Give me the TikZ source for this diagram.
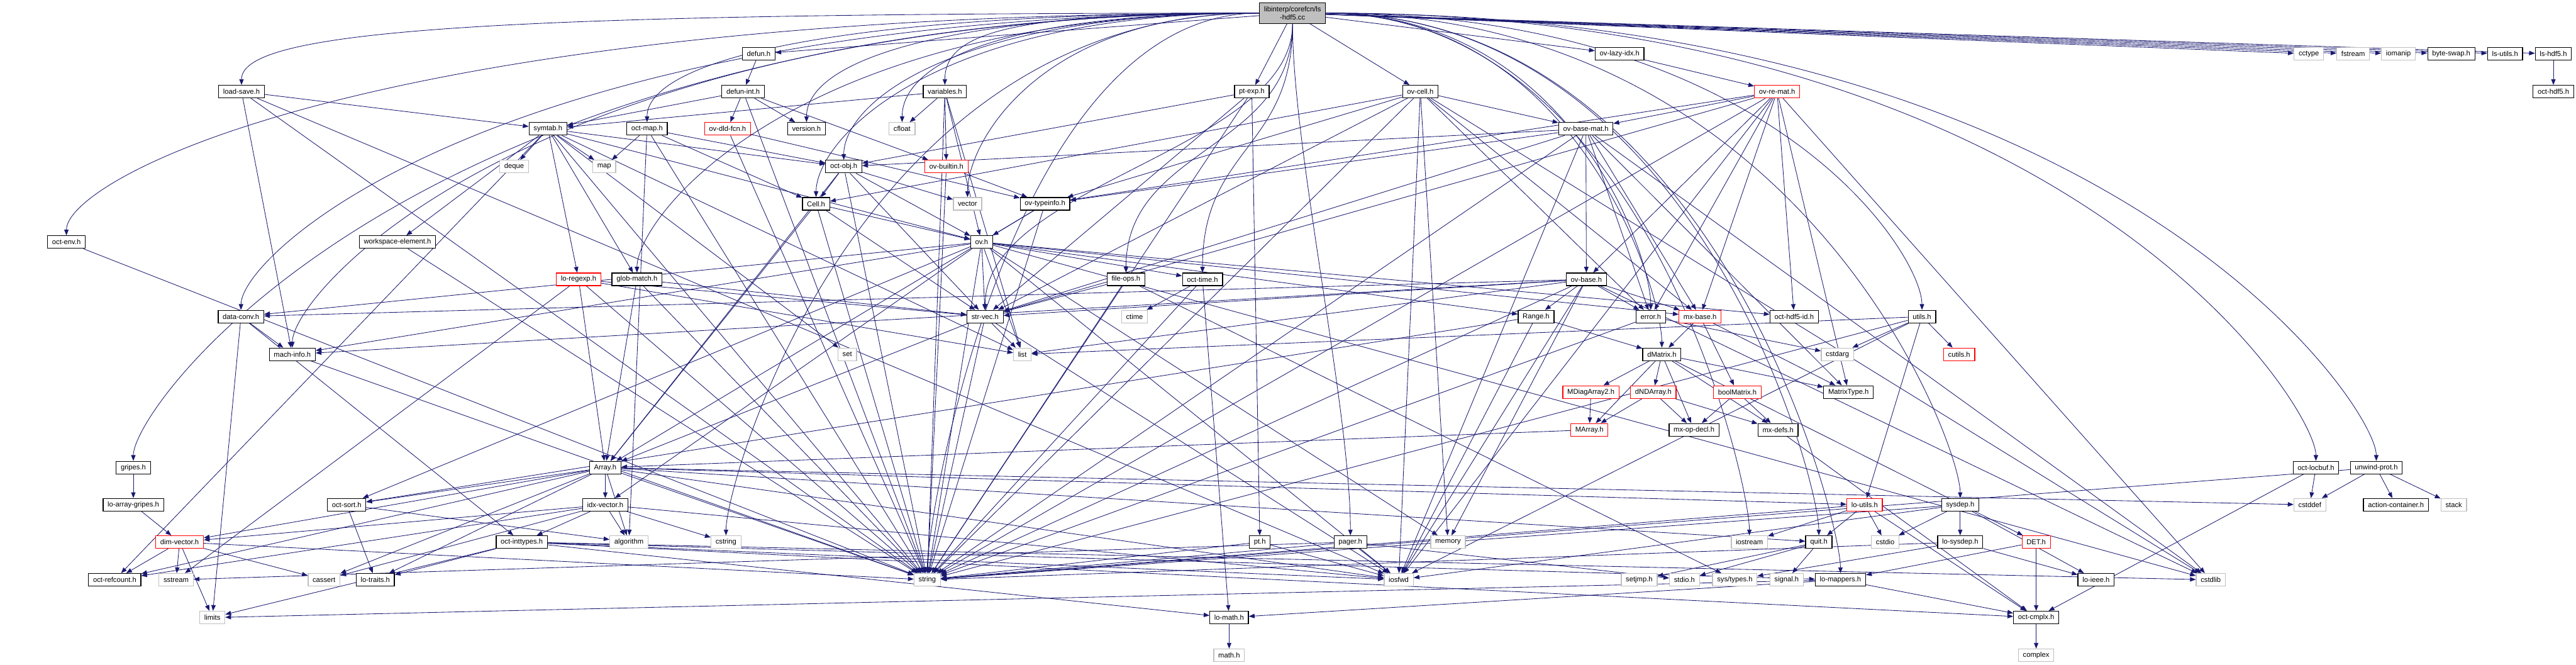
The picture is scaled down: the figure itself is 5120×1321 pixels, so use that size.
\documentclass[tikz,border=0pt]{standalone}
\usepackage{fontspec}
\setmainfont{Liberation Sans}
\usetikzlibrary{arrows.meta,backgrounds,calc}

\definecolor{edgeblue}{HTML}{191970}

\tikzset{
  file/.style={draw=black, line width=0.9pt, fill=white, inner xsep=0.18cm,
    inner ysep=0pt, minimum height=0.5cm, font=\fontsize{8}{9.5}\selectfont},
  sysfile/.style={file, draw=gray!50},
  cutfile/.style={file, draw=red},
  srcfile/.style={file, fill=gray!50, align=center, minimum height=0.82cm},
  dep/.style={draw=edgeblue, line width=0.6pt, -{Triangle[length=6.5pt,width=5pt]}}
}

\begin{document}
\begin{tikzpicture}[x=0.02cm, y=-0.02cm]
  \useasboundingbox (0,0) rectangle (5120,1321);

  % The source file
  \node[srcfile] (root) at (2569,26) {libinterp/corefcn/ls\\-hdf5.cc};

  % Row 1
  \node[file] (defun) at (1508,107) {defun.h};
  \node[file] (ovlazyidx) at (3219,107) {ov-lazy-idx.h};
  \node[sysfile] (cctype) at (4589,107) {cctype};
  \node[sysfile] (fstream) at (4677,107) {fstream};
  \node[sysfile] (iomanip) at (4767,107) {iomanip};
  \node[file] (byteswap) at (4872,107) {byte-swap.h};
  \node[file] (lsutils) at (4979,107) {ls-utils.h};
  \node[file] (lshdf5) at (5075,107) {ls-hdf5.h};

  % Row 2
  \node[file] (loadsave) at (480,182) {load-save.h};
  \node[file] (defunint) at (1477,182) {defun-int.h};
  \node[file] (variables) at (1878,182) {variables.h};
  \node[file] (ptexp) at (2488,182) {pt-exp.h};
  \node[file] (ovcell) at (2823,182) {ov-cell.h};
  \node[cutfile] (ovremat) at (3532,182) {ov-re-mat.h};
  \node[file] (octhdf5) at (5075,182) {oct-hdf5.h};

  % Row 3
  \node[file] (symtab) at (1089,256) {symtab.h};
  \node[file] (octmap) at (1286,256) {oct-map.h};
  \node[cutfile] (ovdldfcn) at (1446,256) {ov-dld-fcn.h};
  \node[file] (version) at (1603,256) {version.h};
  \node[sysfile] (cfloat) at (1793,256) {cfloat};
  \node[file] (ovbasemat) at (3152,256) {ov-base-mat.h};

  % Row 4
  \node[sysfile] (deque) at (1022,331) {deque};
  \node[sysfile] (map) at (1201,331) {map};
  \node[file] (octobj) at (1677,331) {oct-obj.h};
  \node[cutfile] (ovbuiltin) at (1881,331) {ov-builtin.h};

  % Row 5
  \node[file] (cell) at (1622,405) {Cell.h};
  \node[sysfile] (vector) at (1923,405) {vector};
  \node[file] (ovtypeinfo) at (2077,405) {ov-typeinfo.h};

  % Row 6
  \node[file] (octenv) at (132,481) {oct-env.h};
  \node[file] (wselem) at (790,481) {workspace-element.h};
  \node[file] (ov) at (1951,481) {ov.h};

  % Row 7
  \node[cutfile] (loregexp) at (1150,555) {lo-regexp.h};
  \node[file] (globmatch) at (1266,555) {glob-match.h};
  \node[file] (fileops) at (2238,555) {file-ops.h};
  \node[file] (octtime) at (2390,555) {oct-time.h};
  \node[file] (ovbase) at (3153,555) {ov-base.h};

  % Row 8
  \node[file] (dataconv) at (479,629) {data-conv.h};
  \node[file] (strvec) at (1958,629) {str-vec.h};
  \node[sysfile] (ctime) at (2255,629) {ctime};
  \node[file] (range) at (3053,629) {Range.h};
  \node[file] (error) at (3281,629) {error.h};
  \node[cutfile] (mxbase) at (3379,629) {mx-base.h};
  \node[file] (octhdf5id) at (3566,629) {oct-hdf5-id.h};
  \node[file] (utils) at (3820,629) {utils.h};

  % Row 9
  \node[file] (machinfo) at (581,704) {mach-info.h};
  \node[sysfile] (set) at (1684,704) {set};
  \node[sysfile] (list) at (2032,704) {list};
  \node[file] (dmatrix) at (3303,704) {dMatrix.h};
  \node[sysfile] (cstdarg) at (3652,704) {cstdarg};
  \node[cutfile] (cutils) at (3894,704) {cutils.h};

  % Row 10
  \node[cutfile] (mdiag) at (3162,779) {MDiagArray2.h};
  \node[cutfile] (dndarray) at (3286,779) {dNDArray.h};
  \node[cutfile] (boolmatrix) at (3453,779) {boolMatrix.h};
  \node[file] (mattype) at (3674,779) {MatrixType.h};

  % Row 11
  \node[cutfile] (marray) at (3159,854) {MArray.h};
  \node[file] (mxopdecl) at (3367,854) {mx-op-decl.h};
  \node[file] (mxdefs) at (3534,854) {mx-defs.h};

  % Row 12
  \node[file] (gripes) at (265,929) {gripes.h};
  \node[file] (array) at (1203,929) {Array.h};
  \node[file] (octlocbuf) at (4603,929) {oct-locbuf.h};
  \node[file] (unwindprot) at (4723,929) {unwind-prot.h};

  % Row 13
  \node[file] (loagripes) at (265,1003) {lo-array-gripes.h};
  \node[file] (octsort) at (689,1003) {oct-sort.h};
  \node[file] (idxvector) at (1203,1003) {idx-vector.h};
  \node[cutfile] (loutils) at (3706,1003) {lo-utils.h};
  \node[file] (sysdep) at (3896,1003) {sysdep.h};
  \node[sysfile] (cstddef) at (4591,1003) {cstddef};
  \node[file] (actcont) at (4762,1003) {action-container.h};
  \node[sysfile] (stack) at (4877,1003) {stack};

  % Row 14
  \node[cutfile] (dimvector) at (357,1077) {dim-vector.h};
  \node[file] (octinttypes) at (1037,1077) {oct-inttypes.h};
  \node[sysfile] (algorithm) at (1250,1077) {algorithm};
  \node[sysfile] (cstring) at (1443,1077) {cstring};
  \node[file] (pt) at (2504,1077) {pt.h};
  \node[file] (pager) at (2684,1077) {pager.h};
  \node[sysfile] (memory) at (2878,1077) {memory};
  \node[sysfile] (iostream) at (3477,1077) {iostream};
  \node[file] (quit) at (3615,1077) {quit.h};
  \node[sysfile] (cstdio) at (3747,1077) {cstdio};
  \node[file] (losysdep) at (3896,1077) {lo-sysdep.h};
  \node[cutfile] (det) at (4047,1077) {DET.h};

  % Row 15
  \node[file] (octrefcount) at (228,1152) {oct-refcount.h};
  \node[sysfile] (sstream) at (350,1152) {sstream};
  \node[sysfile] (cassert) at (644,1152) {cassert};
  \node[file] (lotraits) at (746,1152) {lo-traits.h};
  \node[sysfile] (string) at (1843,1152) {string};
  \node[sysfile] (iosfwd) at (2780,1152) {iosfwd};
  \node[sysfile] (setjmp) at (3258,1152) {setjmp.h};
  \node[sysfile] (stdio) at (3348,1152) {stdio.h};
  \node[sysfile] (systypes) at (3448,1152) {sys/types.h};
  \node[sysfile] (signal) at (3551,1152) {signal.h};
  \node[file] (lomappers) at (3658,1152) {lo-mappers.h};
  \node[file] (loieee) at (4166,1152) {lo-ieee.h};
  \node[sysfile] (cstdlib) at (4394,1152) {cstdlib};

  % Rows 16 and 17
  \node[sysfile] (limits) at (422,1227) {limits};
  \node[file] (lomath) at (2443,1227) {lo-math.h};
  \node[file] (octcmplx) at (4047,1227) {oct-cmplx.h};
  \node[sysfile] (mathh) at (2443,1302) {math.h};
  \node[sysfile] (complex) at (4047,1302) {complex};

  \begin{scope}[on background layer]
    % Direct includes of the source file
    \foreach \t in {defun,ovlazyidx,cctype,fstream,iomanip,byteswap,lsutils,lshdf5,ptexp,ovcell}
      \draw[dep] (root) -- (\t);
    \foreach \t in {fileops,octtime,pager,strvec}
      \draw[dep] (root.south) .. controls +(0,250) and ($(\t.north)+(0,-250)$) .. (\t.north);
    \foreach \t in {variables,cfloat,vector,cell,octobj,version,octmap,globmatch,loadsave,
                    octenv,gripes,dataconv,machinfo,string,cstring}
      \draw[dep] (root.west) .. controls ($(root.west)!0.75!(root.west -| \t.north)$)
        and ($(\t.north)+(0,-110)$) .. (\t.north);
    \foreach \t in {error,dmatrix,utils,sysdep,quit,iostream,lomappers,octlocbuf,unwindprot}
      \draw[dep] (root.east) .. controls ($(root.east)!0.75!(root.east -| \t.north)$)
        and ($(\t.north)+(0,-110)$) .. (\t.north);

    % Includes of the other headers
    \draw[dep] (defun) -- (defunint);
    \foreach \t in {symtab,version,ovdldfcn,ovbuiltin,string}
      \draw[dep] (defunint) -- (\t);
    \foreach \t in {symtab,machinfo,iosfwd,string}
      \draw[dep] (loadsave) -- (\t);
    \foreach \t in {symtab,cfloat,ovbuiltin,ov,list,string}
      \draw[dep] (variables) -- (\t);
    \foreach \t in {pt,octobj,strvec,string}
      \draw[dep] (ptexp) -- (\t);
    \foreach \t in {ovbasemat,cell,ovtypeinfo,strvec,error,mxbase,memory,iosfwd,string,cstdlib}
      \draw[dep] (ovcell) -- (\t);
    \foreach \t in {ovbasemat,ovbase,ovtypeinfo,strvec,error,mxbase,mattype,octhdf5id,iosfwd,string,cstdlib}
      \draw[dep] (ovremat) -- (\t);
    \draw[dep] (ovlazyidx) -- (ovremat);
    \draw[dep] (lshdf5) -- (octhdf5);
    \foreach \t in {ovbase,octobj,ovtypeinfo,strvec,error,mxbase,mattype,iosfwd,string,cstdlib}
      \draw[dep] (ovbasemat) -- (\t);
    \foreach \t in {deque,map,set,list,wselem,octobj,ov,loregexp,globmatch,octrefcount,string}
      \draw[dep] (symtab) -- (\t);
    \foreach \t in {map,cell,octobj,algorithm,string}
      \draw[dep] (octmap) -- (\t);
    \foreach \t in {ovtypeinfo,string}
      \draw[dep] (ovdldfcn) -- (\t);
    \foreach \t in {cell,vector,ov,strvec,array,string}
      \draw[dep] (octobj) -- (\t);
    \foreach \t in {ovtypeinfo,string}
      \draw[dep] (ovbuiltin) -- (\t);
    \foreach \t in {ov,strvec,array,string}
      \draw[dep] (cell) -- (\t);
    \foreach \t in {ov,array,string}
      \draw[dep] (ovtypeinfo) -- (\t);
    \draw[dep] (wselem) -- (string);
    \draw[dep] (octenv) -- (string);
    \foreach \t in {octtime,strvec,range,dataconv,machinfo,mxbase,octhdf5id,idxvector,octsort,
                    list,memory,iosfwd,string,cstdlib}
      \draw[dep] (ov) -- (\t);
    \foreach \t in {list,sstream,array,strvec,string}
      \draw[dep] (loregexp) -- (\t);
    \foreach \t in {array,strvec,string}
      \draw[dep] (globmatch) -- (\t);
    \foreach \t in {strvec,systypes,string}
      \draw[dep] (fileops) -- (\t);
    \foreach \t in {ctime,lomath,string}
      \draw[dep] (octtime) -- (\t);
    \foreach \t in {range,dataconv,machinfo,mxbase,strvec,error,list,memory,iosfwd,string,cstdlib}
      \draw[dep] (ovbase) -- (\t);
    \foreach \t in {machinfo,octinttypes,limits}
      \draw[dep] (dataconv) -- (\t);
    \foreach \t in {array,list,iosfwd,string}
      \draw[dep] (strvec) -- (\t);
    \foreach \t in {dmatrix,octsort,iosfwd}
      \draw[dep] (range) -- (\t);
    \foreach \t in {cstdarg,string}
      \draw[dep] (error) -- (\t);
    \foreach \t in {dmatrix,boolmatrix,mattype}
      \draw[dep] (mxbase) -- (\t);
    \foreach \t in {cstdarg,cutils,list,loutils,iosfwd,string}
      \draw[dep] (utils) -- (\t);
    \draw[dep] (machinfo) -- (string);
    \foreach \t in {mdiag,dndarray,marray,mxopdecl,mxdefs,mattype,det}
      \draw[dep] (dmatrix) -- (\t);
    \draw[dep] (mdiag) -- (marray);
    \foreach \t in {marray,mxopdecl,mxdefs}
      \draw[dep] (dndarray) -- (\t);
    \foreach \t in {mxopdecl,mxdefs}
      \draw[dep] (boolmatrix) -- (\t);
    \draw[dep] (marray) -- (array);
    \draw[dep] (mxdefs) -- (octcmplx);
    \draw[dep] (gripes) -- (loagripes);
    \foreach \t in {idxvector,dimvector,octsort,loutils,quit,algorithm,cassert,lotraits,
                    octrefcount,cstddef,iosfwd,string}
      \draw[dep] (array) -- (\t);
    \foreach \t in {cstddef,octcmplx}
      \draw[dep] (octlocbuf) -- (\t);
    \foreach \t in {cstddef,actcont,stack,string}
      \draw[dep] (unwindprot) -- (\t);
    \draw[dep] (loagripes) -- (dimvector);
    \foreach \t in {lotraits,algorithm}
      \draw[dep] (octsort) -- (\t);
    \foreach \t in {dimvector,octinttypes,algorithm,cstring,cassert,octrefcount,iosfwd}
      \draw[dep] (idxvector) -- (\t);
    \foreach \t in {quit,iostream,cstdio,octcmplx,string}
      \draw[dep] (loutils) -- (\t);
    \foreach \t in {losysdep,cstdio,loieee,iosfwd,string}
      \draw[dep] (sysdep) -- (\t);
    \foreach \t in {octrefcount,sstream,cassert,limits,string}
      \draw[dep] (dimvector) -- (\t);
    \foreach \t in {lotraits,lomappers,lomath,octcmplx,limits,iosfwd,cstdlib}
      \draw[dep] (octinttypes) -- (\t);
    \foreach \t in {iosfwd,string}
      \draw[dep] (pt) -- (\t);
    \foreach \t in {sstream,stdio,iosfwd,string}
      \draw[dep] (pager) -- (\t);
    \foreach \t in {setjmp,signal,stdio}
      \draw[dep] (quit) -- (\t);
    \foreach \t in {systypes,loieee,string}
      \draw[dep] (losysdep) -- (\t);
    \foreach \t in {lomappers,octcmplx}
      \draw[dep] (det) -- (\t);
    \foreach \t in {lomath,octcmplx,limits}
      \draw[dep] (lomappers) -- (\t);
    \draw[dep] (lomath) -- (mathh);
    \draw[dep] (octcmplx) -- (complex);
  \end{scope}
\end{tikzpicture}
\end{document}
